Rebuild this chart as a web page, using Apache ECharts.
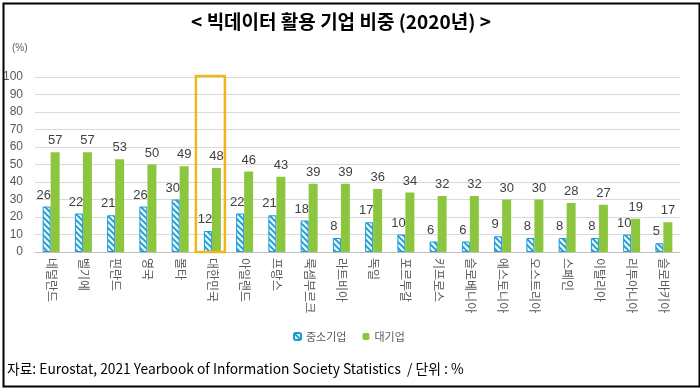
<!DOCTYPE html>
<html><head><meta charset="utf-8">
<script src="https://cdn.jsdelivr.net/npm/echarts@6/dist/echarts.min.js"></script>
<style>html,body{margin:0;padding:0;background:#fff}#c{width:700px;height:388px}</style>
</head><body><div id="c"></div>
<script>
const categories = ['네덜란드','벨기에','핀란드','영국','몰타','대한민국','아일랜드','프랑스','룩셈부르크','라트비아','독일','포르투갈','키프로스','슬로베니아','에스토니아','오스트리아','스페인','이탈리아','리투아니아','슬로바키아'];
const smeValues = [26,22,21,26,30,12,22,21,18,8,17,10,6,6,9,8,8,8,10,5];
const largeValues = [57,57,53,50,49,48,46,43,39,39,36,34,32,32,30,30,28,27,19,17];
const yTicks = [0,10,20,30,40,50,60,70,80,90,100];
const seriesNames = ['중소기업','대기업'];
const highlightCategory = '대한민국';
const titleText = '< 빅데이터 활용 기업 비중 (2020년) >';
const sourceText = '자료: Eurostat, 2021 Yearbook of Information Society Statistics  / 단위 : %';

const KR = "'Noto Sans CJK KR', 'Noto Sans', sans-serif";

// hatch pattern
const pc = document.createElement('canvas');
pc.width = 6; pc.height = 6;
const g = pc.getContext('2d');
g.fillStyle = '#eaf7fc'; g.fillRect(0,0,6,6);
g.strokeStyle = '#1b9ad2'; g.lineWidth = 1.8;
g.beginPath();
g.moveTo(-1,-1); g.lineTo(7,7);
g.moveTo(-1,5); g.lineTo(1,7);
g.moveTo(5,-1); g.lineTo(7,1);
g.stroke();

const chart = echarts.init(document.getElementById('c'), null, {renderer:'canvas'});
const option = {
  animation: false,
  backgroundColor: '#fff',
  grid: {left: 34, right: 20, top: 77, bottom: 136, containLabel: false},
  xAxis: {
    type: 'category', data: categories,
    axisLine: {lineStyle: {color: '#bfbfbf', width: 1}},
    axisTick: {show: false},
    axisLabel: {rotate: -90, interval: 0, color: '#595959', fontSize: 12, fontFamily: KR, margin: 6}
  },
  yAxis: {
    type: 'value', min: yTicks[0], max: yTicks[yTicks.length-1], interval: 10,
    axisLine: {show: false}, axisTick: {show: false},
    splitLine: {lineStyle: {color: '#d9d9d9', width: 1}},
    axisLabel: {color: '#595959', fontSize: 12, fontFamily: "'Liberation Sans', sans-serif", margin: 12}
  },
  legend: {
    bottom: 41, left: 288, itemWidth: 7, itemHeight: 7, itemGap: 16,
    textStyle: {color: '#595959', fontSize: 11, fontFamily: KR},
    data: seriesNames
  },
  series: [
    {name: seriesNames[0], type: 'bar', data: smeValues, barWidth: 8, barGap: '0%',
     itemStyle: {color: {image: pc, repeat: 'repeat'}, borderColor: '#1b9ad2', borderWidth: 1},
     label: {show: true, position: 'top', distance: 5, offset: [-3,0], color: '#404040', fontSize: 13, fontFamily: "'Liberation Sans', sans-serif"}},
    {name: seriesNames[1], type: 'bar', data: largeValues, barWidth: 9, barGap: '0%',
     itemStyle: {color: '#8cc63f'},
     label: {show: true, position: 'top', distance: 5, color: '#404040', fontSize: 13, fontFamily: "'Liberation Sans', sans-serif"}}
  ],
  graphic: [
    {type: 'rect', left: 1, top: 1, shape: {width: 696, height: 383}, style: {fill: 'none', stroke: '#000', lineWidth: 2}, silent: true, z: 100},
    {type: 'text', x: 341, y: 22, style: {text: titleText, fontSize: 19, fontWeight: 'bold', fontFamily: KR, fill: '#000', align: 'center', verticalAlign: 'middle'}},
    {type: 'text', left: 12, top: 43, style: {text: '(%)', fontSize: 10, fontFamily: "'Liberation Sans', sans-serif", fill: '#595959'}},
    {type: 'text', left: 7, top: 362, style: {text: sourceText, fontSize: 14, fontFamily: KR, fill: '#000'}, scaleX: 0.985}
  ]
};
chart.setOption(option);

// highlight box around the chosen category, located through the axis scales
const pTop = chart.convertToPixel({xAxisIndex: 0, yAxisIndex: 0}, [highlightCategory, yTicks[yTicks.length-1]]);
const pBot = chart.convertToPixel({xAxisIndex: 0, yAxisIndex: 0}, [highlightCategory, 0]);
const bw = 29;
chart.setOption({graphic: option.graphic.concat([{
  type: 'rect', silent: true, z: 50,
  shape: {x: pTop[0] - 2 - bw/2, y: pTop[1] - 1, width: bw, height: pBot[1] - pTop[1] + 1},
  style: {fill: 'none', stroke: '#f2b51c', lineWidth: 2.5}
}])});
</script></body></html>
